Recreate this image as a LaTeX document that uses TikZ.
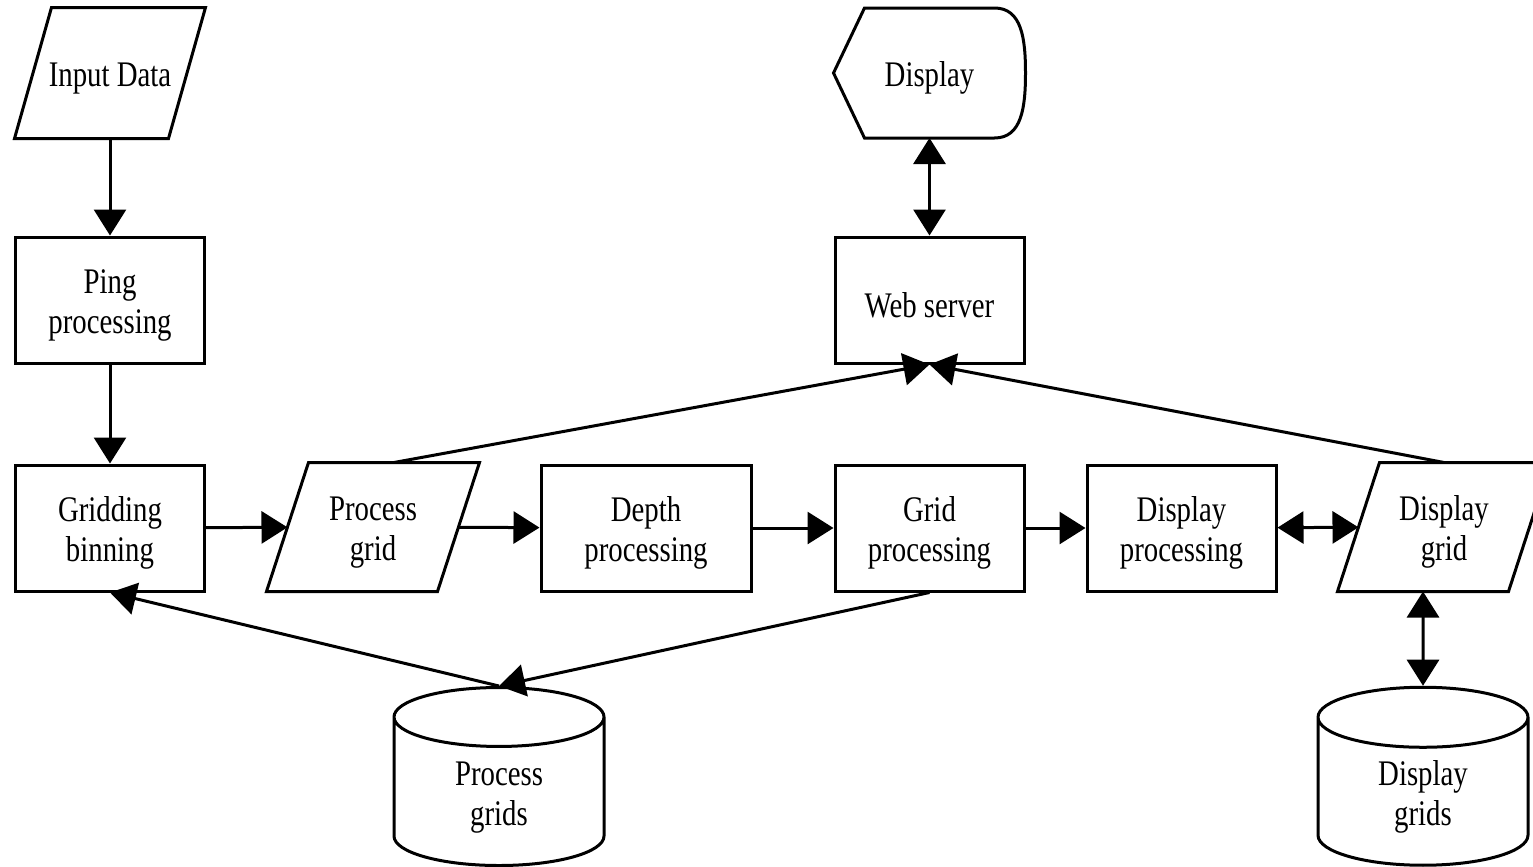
\documentclass[tikz,border=0pt]{standalone}
\usepackage{fontspec}
\setmainfont{Liberation Serif}[FakeStretch=0.8]
\usetikzlibrary{shapes.geometric,arrows.meta}

\tikzset{
  lift/.style={execute at begin node={\rule{0pt}{#1}}},
  lift/.default=17.5pt,
  boxshape/.style={draw,rectangle,minimum width=94.5pt,minimum height=63pt,align=center,inner sep=0pt},
  box/.style={boxshape,lift=37.5pt},
  box1/.style={boxshape,lift},
  iobox/.style={rectangle,minimum width=84pt,minimum height=63pt,align=center,inner sep=0pt},
  store/.style={draw,cylinder,shape border rotate=90,aspect=0.67,minimum width=105pt,
    minimum height=89pt,align=center,inner sep=0pt,lift=37.5pt},
  flow/.style={-{Triangle[length=13pt,width=16pt]}},
  both/.style={{Triangle[length=13pt,width=16pt]}-{Triangle[length=13pt,width=16pt]}},
}

\begin{document}
\begin{tikzpicture}[x=0.5pt,y=-0.5pt,line width=1.5pt,font=\fontsize{18pt}{20pt}\selectfont]
\useasboundingbox (0,0) rectangle (1533,867);

% left column
\node[iobox,minimum width=75.5pt,minimum height=64pt,lift] (inp) at (110,73) {Input Data};
\node[box] (ping) at (110,300) {Ping\\processing};
\node[box] (gridb) at (110,528) {Gridding\\binning};

% main row
\node[iobox,lift=37.5pt] (pgrid) at (373,527) {Process\\grid};
\node[box,minimum width=105pt] (depth) at (646,528) {Depth\\processing};
\node[box] (gproc) at (929.5,528) {Grid\\processing};
\node[box] (dproc) at (1181.5,528) {Display\\processing};
\node[iobox,lift=37.5pt] (dgrid) at (1444,527) {Display\\grid};

% slanted data boxes
\foreach \n/\s in {inp/9.25pt,pgrid/10.5pt,dgrid/10.5pt}
  \draw ([xshift=\s]\n.north west) -- ([xshift=\s]\n.north east)
    -- ([xshift=-\s]\n.south east) -- ([xshift=-\s]\n.south west) -- cycle;

% display and server
\node[minimum width=94.5pt,minimum height=63.5pt,inner sep=0pt,lift] (disp) at (929.5,73) {Display};
\draw (disp.west) -- ([xshift=15.5pt]disp.north west) -- ([xshift=-15.5pt]disp.north east)
  .. controls ([xshift=-2pt]disp.north east) and ([yshift=-15pt]disp.north east) .. (disp.east)
  .. controls ([yshift=15pt]disp.south east) and ([xshift=-2pt]disp.south east) .. ([xshift=-15.5pt]disp.south east)
  -- ([xshift=15.5pt]disp.south west) -- cycle;
\node[box1] (web) at (929.5,300) {Web server};

% storage
\node[store] (pgrids) at (499,792) {Process\\grids};
\node[store] (dgrids) at (1423,792) {Display\\grids};

% connectors
\draw[flow] (inp) -- (ping);
\draw[flow] (ping) -- (gridb);
\draw[flow] (gridb) -- (pgrid);
\draw[flow] (pgrid) -- (depth);
\draw[flow] (depth) -- (gproc);
\draw[flow] (gproc) -- (dproc);
\draw[both] (dproc) -- (dgrid);
\draw[both] (disp) -- (web);
\draw[both] ([xshift=-10.5pt]dgrid.south) -- (dgrids.north);
\draw[flow] ([xshift=10.5pt]pgrid.north) -- (web.south);
\draw[flow] (dgrid.north) -- (web.south);
\draw[flow] (gproc.south) -- (pgrids.north);
\draw[flow] (pgrids.north) -- (gridb.south);
\end{tikzpicture}
\end{document}
